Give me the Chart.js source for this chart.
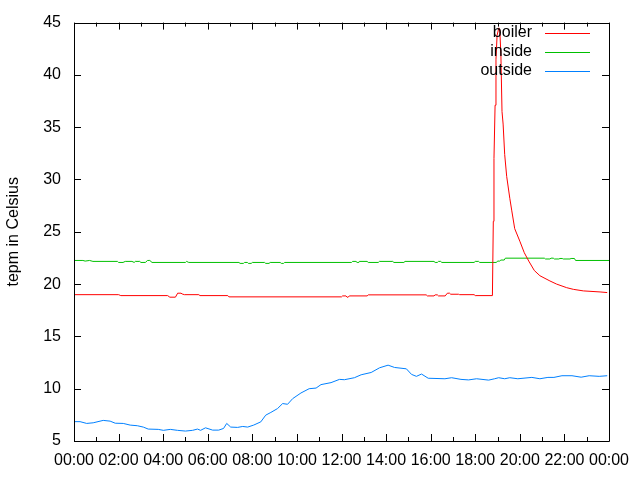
<!DOCTYPE html>
<html>
<head>
<meta charset="utf-8">
<script src="https://cdn.jsdelivr.net/npm/chart.js@4"></script>
<style>
  body { margin: 0; background: #fff; }
</style>
</head>
<body>
<canvas id="myChart" width="640" height="480"></canvas>
<script>
// boiler (red) - hours / temps
const boilerHours = [
  0, 2.0, 2.1, 4.2, 4.3, 4.55, 4.65, 4.8, 4.85, 4.95,
  5.6, 5.65, 6.9, 6.95, 12.0, 12.05, 12.2, 12.25, 12.3, 12.35,
  13.15, 13.2, 15.8, 15.85, 16.15, 16.2, 16.3, 16.35, 16.65, 16.75,
  16.85, 16.9, 17.25, 17.3, 17.95, 18.0, 18.77, 18.81, 18.84, 18.89,
  18.93, 18.98, 19.06, 19.1, 19.15, 19.2, 19.25, 19.32, 19.41, 19.55,
  19.64, 19.77, 20.0, 20.2, 20.4, 20.65, 20.9, 21.35, 21.65, 22.1,
  22.4, 22.85, 23.6, 23.92,
];
const boilerTemps = [
  18.99, 18.99, 18.9, 18.9, 18.75, 18.75, 19.13, 19.13, 19.06, 18.99,
  18.99, 18.9, 18.9, 18.78, 18.78, 18.87, 18.87, 18.75, 18.75, 18.87,
  18.87, 18.97, 18.97, 18.87, 18.87, 18.97, 18.97, 18.87, 18.87, 19.13,
  19.13, 19.03, 19.03, 18.99, 18.99, 18.9, 18.9, 26.0, 32.0, 37.1,
  41.5, 43.8, 44.5, 44.3, 42.0, 36.5, 35.3, 32.4, 30.3, 28.2,
  27.0, 25.3, 24.1, 23.0, 22.2, 21.3, 20.8, 20.3, 20.0, 19.66,
  19.5, 19.35, 19.25, 19.19,
];

// inside (green)
const insideHours = [
  0, 0.4, 0.5, 0.7, 0.85, 1.95, 2.0, 2.2, 2.3, 2.6,
  2.7, 2.75, 2.95, 3.0, 3.2, 3.3, 3.4, 3.5, 5.0, 5.05,
  5.15, 7.4, 7.45, 7.6, 7.65, 7.78, 7.82, 7.95, 8.0, 8.55,
  8.6, 8.75, 8.8, 9.25, 9.3, 9.4, 9.45, 12.45, 12.5, 12.65,
  12.7, 12.78, 12.8, 13.15, 13.2, 13.65, 13.7, 14.3, 14.35, 14.8,
  14.85, 16.15, 16.2, 16.3, 16.35, 16.45, 16.5, 17.95, 18.0, 18.15,
  18.2, 18.95, 19.0, 19.1, 19.15, 19.3, 19.35, 21.1, 21.15, 21.35,
  21.4, 21.5, 21.55, 21.75, 21.8, 21.9, 21.95, 22.25, 22.3, 22.45,
  22.5, 24.0,
];
const insideTemps = [
  22.26, 22.26, 22.2, 22.26, 22.17, 22.17, 22.07, 22.07, 22.17, 22.17,
  22.07, 22.17, 22.17, 22.07, 22.07, 22.26, 22.26, 22.07, 22.07, 22.17,
  22.07, 22.07, 21.98, 21.98, 22.07, 22.07, 21.98, 21.98, 22.07, 22.07,
  21.98, 21.98, 22.07, 22.07, 21.98, 21.98, 22.07, 22.07, 22.17, 22.17,
  22.07, 22.07, 22.17, 22.17, 22.07, 22.07, 22.17, 22.17, 22.07, 22.07,
  22.17, 22.17, 22.07, 22.07, 22.17, 22.17, 22.07, 22.07, 22.17, 22.17,
  22.07, 22.07, 22.2, 22.2, 22.3, 22.3, 22.48, 22.48, 22.4, 22.4,
  22.48, 22.48, 22.4, 22.4, 22.45, 22.45, 22.4, 22.4, 22.45, 22.45,
  22.26, 22.26,
];

// outside (blue)
const outsideHours = [
  0, 0.27, 0.57, 0.86, 1.31, 1.62, 1.85, 2.21, 2.52, 2.84,
  3.11, 3.33, 3.78, 4.01, 4.32, 4.64, 5.0, 5.32, 5.54, 5.68,
  5.9, 6.22, 6.49, 6.71, 6.85, 7.03, 7.34, 7.57, 7.79, 8.06,
  8.38, 8.6, 8.83, 9.13, 9.36, 9.58, 9.81, 10.18, 10.55, 10.86,
  11.08, 11.53, 11.91, 12.13, 12.58, 12.88, 13.33, 13.71, 14.09, 14.38,
  14.91, 15.14, 15.36, 15.59, 15.89, 16.64, 16.94, 17.36, 17.7, 18.06,
  18.6, 18.87, 19.05, 19.32, 19.55, 19.91, 20.54, 20.9, 21.26, 21.53,
  21.89, 22.34, 22.75, 23.11, 23.56, 23.92,
];
const outsideTemps = [
  6.85, 6.85, 6.68, 6.74, 6.97, 6.9, 6.7, 6.68, 6.52, 6.46,
  6.33, 6.14, 6.11, 6.02, 6.11, 6.02, 5.95, 6.02, 6.14, 6.02,
  6.26, 6.04, 6.04, 6.2, 6.68, 6.33, 6.3, 6.39, 6.33, 6.52,
  6.83, 7.47, 7.73, 8.1, 8.58, 8.51, 9.05, 9.59, 10.0, 10.06,
  10.39, 10.58, 10.89, 10.86, 11.05, 11.33, 11.55, 12.0, 12.25, 12.03,
  11.9, 11.37, 11.18, 11.4, 11.0, 10.95, 11.05, 10.89, 10.84, 10.95,
  10.82, 10.95, 11.05, 10.95, 11.05, 10.95, 11.08, 10.95, 11.08, 11.08,
  11.24, 11.24, 11.1, 11.24, 11.18, 11.24,
];

const seriesNames = ["boiler", "inside", "outside"];
const seriesColors = ["#ff0000", "#00c000", "#0080ff"];
const yTicks = [5, 10, 15, 20, 25, 30, 35, 40, 45];
const yTitle = "tepm in Celsius";

const FONT = "Liberation Sans";
const FSIZE = 16;

const toPoints = (hours, temps) => hours.map((h, i) => ({ x: h, y: temps[i] }));

const hourLabel = (v) => {
  const h = Math.round(v) % 24;
  return (h < 10 ? "0" + h : "" + h) + ":00";
};

// gnuplot-like border, inward ticks and key
const gnuFrame = {
  id: "gnuFrame",
  afterDraw(chart) {
    const { ctx, chartArea: a, scales } = chart;
    const x = scales.x, y = scales.y;
    ctx.save();
    ctx.strokeStyle = "#000";
    ctx.lineWidth = 1;
    ctx.beginPath();
    ctx.rect(Math.round(a.left) + 0.5, Math.round(a.top) + 0.5,
      Math.round(a.right - a.left), Math.round(a.bottom - a.top));
    for (const v of yTicks) {
      const py = Math.round(y.getPixelForValue(v)) + 0.5;
      ctx.moveTo(a.left, py); ctx.lineTo(a.left + 7, py);
      ctx.moveTo(a.right, py); ctx.lineTo(a.right - 7, py);
    }
    for (let h = 0; h <= 24; h++) {
      const px = Math.round(x.getPixelForValue(h)) + 0.5;
      const len = h % 2 == 0 ? 7 : 4;
      ctx.moveTo(px, a.bottom); ctx.lineTo(px, a.bottom - len);
      ctx.moveTo(px, a.top); ctx.lineTo(px, a.top + len);
    }
    ctx.stroke();

    // key
    ctx.font = FSIZE + "px '" + FONT + "'";
    ctx.textAlign = "right";
    ctx.textBaseline = "middle";
    seriesNames.forEach((name, i) => {
      const ky = 33 + i * 19;
      ctx.fillStyle = "#000";
      ctx.fillText(name, 532, ky);
      ctx.beginPath();
      ctx.strokeStyle = seriesColors[i];
      ctx.moveTo(545, ky + 0.5);
      ctx.lineTo(590, ky + 0.5);
      ctx.stroke();
    });
    ctx.restore();
  },
};

const data = {
  datasets: [
    { label: seriesNames[0], data: toPoints(boilerHours, boilerTemps) },
    { label: seriesNames[1], data: toPoints(insideHours, insideTemps) },
    { label: seriesNames[2], data: toPoints(outsideHours, outsideTemps) },
  ].map((ds, i) => ({
    ...ds,
    borderColor: seriesColors[i],
    backgroundColor: seriesColors[i],
    borderWidth: 1,
    pointRadius: 0,
    tension: 0,
    fill: false,
  })),
};

const config = {
  type: "line",
  data: data,
  options: {
    responsive: false,
    animation: false,
    layout: { padding: { left: 0, right: 31, top: 20, bottom: 0 } },
    plugins: {
      legend: { display: false },
      tooltip: { enabled: false },
    },
    scales: {
      x: {
        type: "linear",
        min: 0,
        max: 24,
        grid: { display: false, drawTicks: false },
        border: { display: false },
        ticks: {
          stepSize: 2,
          padding: 10,
          color: "#000",
          maxRotation: 0,
          autoSkip: false,
          font: { family: FONT, size: FSIZE },
          callback: (v) => hourLabel(v),
        },
        afterFit: (scale) => { scale.height = 39; },
      },
      y: {
        min: 5,
        max: 45,
        grid: { display: false, drawTicks: false },
        border: { display: false },
        ticks: {
          stepSize: 5,
          padding: 13,
          color: "#000",
          font: { family: FONT, size: FSIZE },
        },
        title: {
          display: true,
          text: yTitle,
          color: "#000",
          font: { family: FONT, size: FSIZE },
          padding: { top: 4, bottom: 4 },
        },
        afterFit: (scale) => { scale.width = 74; },
      },
    },
  },
  plugins: [gnuFrame],
};

myChart = new Chart("myChart", config);
</script>
</body>
</html>
